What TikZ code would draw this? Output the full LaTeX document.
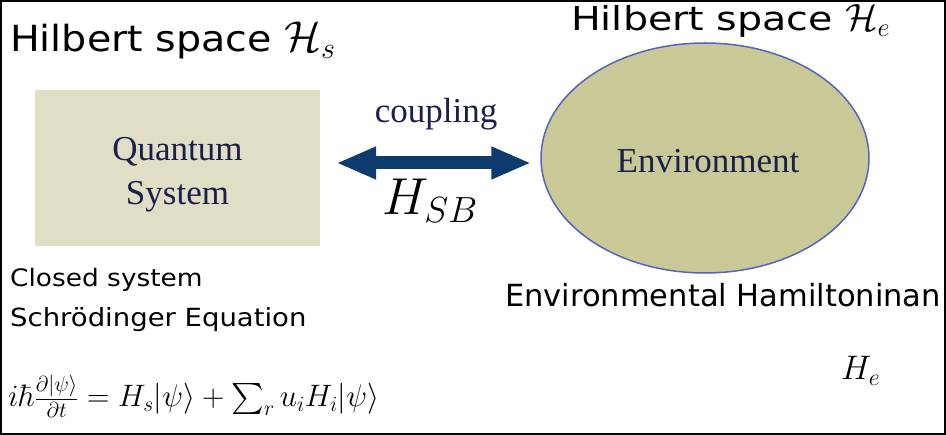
\RequirePackage{fix-cm}
\documentclass[tikz,border=0pt]{standalone}
\usepackage{amsmath,amssymb}
\usepackage{graphicx}
\usepackage{fontspec}
\newfontfamily\titlefont[FakeStretch=1.1]{DejaVu Sans}
\newfontfamily\widetitlefont[FakeStretch=1.2]{DejaVu Sans}
\newfontfamily\notefont[FakeStretch=1.1]{DejaVu Sans}
\newfontfamily\plainsans{DejaVu Sans}
\newfontfamily\boxfont{Liberation Serif}
\usepackage{tikz}
\usetikzlibrary{shapes,arrows.meta,positioning,calc}

\definecolor{boxfill}{HTML}{E0DEC4}
\definecolor{envfill}{HTML}{C9C897}
\definecolor{envline}{HTML}{5563C1}
\definecolor{arrownavy}{HTML}{0D3B6E}
\definecolor{textnavy}{HTML}{1B1F4D}

\begin{document}
\begin{tikzpicture}[
    x=1pt, y=-1pt,
    label/.style={anchor=base west, inner sep=0pt, text=black},
    system/.style={rectangle, fill=boxfill, minimum width=285pt, minimum height=156pt},
    systext/.style={align=center, inner sep=0pt, text=textnavy, font=\boxfont\fontsize{35}{44}\selectfont},
    bath/.style={ellipse, draw=envline, line width=1.5pt, fill=envfill, minimum width=328pt, minimum height=230pt, inner sep=0pt},
    coupling/.style={draw=arrownavy, line width=13pt, {Triangle[length=40pt,width=30pt]}-{Triangle[length=40pt,width=30pt]}}
]
\useasboundingbox (0,0) rectangle (946,435);

% Frame
\draw[line width=2pt] (1,1) rectangle (945,434);

% Hilbert space titles
\node[label, font=\titlefont\fontsize{36}{44}\selectfont] (hs) at (10,52) {Hilbert space \scalebox{1.2}{$\mathcal{H}_s$}};
\node[label, font=\widetitlefont\fontsize{33}{40}\selectfont] (he) at (571,31) {Hilbert space \scalebox{1.15}{$\mathcal{H}_e$}};

% System and environment
\node[system] (sys) at (177.5,168) {};
\node[systext] (sysname) at ([yshift=-7pt]sys.center) {Quantum\\System};
\node[bath] (env) at (705,158) {};
\node[anchor=base, inner sep=0pt, text=textnavy, font=\boxfont\fontsize{35}{42}\selectfont] (envname) at (708,173) {Environment};

% Coupling
\draw[coupling] ([xshift=16pt,yshift=5pt]sys.east) -- ([xshift=-9pt,yshift=-5pt]env.west);
\node[anchor=base, inner sep=0pt, text=textnavy, font=\boxfont\fontsize{35}{42}\selectfont] (couplab) at (436,123) {coupling};
\node[anchor=base, inner sep=0pt, font=\fontsize{52}{60}\selectfont] (hsb) at (430,215) {$H_{SB}$};

% Labels below
\node[label, font=\notefont\fontsize{24}{30}\selectfont] (closed) at (10,287) {Closed system};
\node[label, font=\notefont\fontsize{25}{30}\selectfont] (schr) at (10,327) {Schrödinger Equation};
\node[label, font=\plainsans\fontsize{30.5}{37}\selectfont] (envham) at (505,307) {Environmental Hamiltoninan};
\node[label, font=\fontsize{34}{40}\selectfont] (he2) at (841,380) {$H_e$};

% Equation
\node[label, font=\fontsize{31}{37}\selectfont] (eq) at (8,407) {$i\hbar\frac{\partial|\psi\rangle}{\partial t} = H_s|\psi\rangle + \sum_r u_i H_i|\psi\rangle$};

\end{tikzpicture}
\end{document}
